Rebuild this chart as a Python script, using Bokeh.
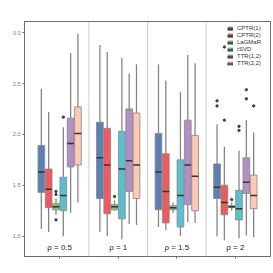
from bokeh.plotting import figure
from bokeh.models import ColumnDataSource, Span, FixedTicker, Legend, LegendItem
from bokeh.core.properties import value
from bokeh.embed import file_html
from bokeh.resources import INLINE

groups = ["ρ = 0.5", "ρ = 1", "ρ = 1.5", "ρ = 2"]
series = ["CPTR(1)", "CPTR(2)", "LaGMaR", "rSVD", "TTR(1,2)", "TTR(2,2)"]
colors = ["#5b80b2", "#f05a5f", "#82c96e", "#5cbfd0", "#b38fc6", "#fdc9b4"]

# per series: values for the 4 groups
whisker_low = {
    "CPTR(1)": [1.07, 1.04, 1.09, 1.00],
    "CPTR(2)": [1.04, 1.00, 1.06, 0.96],
    "LaGMaR": [1.21, 1.25, 1.23, 1.25],
    "rSVD": [1.00, 0.97, 1.00, 0.98],
    "TTR(1,2)": [1.23, 1.12, 1.14, 1.01],
    "TTR(2,2)": [1.33, 1.11, 1.13, 0.99],
}
q1 = {
    "CPTR(1)": [1.43, 1.37, 1.26, 1.37],
    "CPTR(2)": [1.28, 1.22, 1.13, 1.21],
    "LaGMaR": [1.26, 1.26, 1.26, 1.28],
    "rSVD": [1.25, 1.17, 1.09, 1.16],
    "TTR(1,2)": [1.68, 1.44, 1.31, 1.42],
    "TTR(2,2)": [1.70, 1.37, 1.25, 1.27],
}
median = {
    "CPTR(1)": [1.63, 1.77, 1.63, 1.48],
    "CPTR(2)": [1.46, 1.70, 1.44, 1.33],
    "LaGMaR": [1.29, 1.29, 1.28, 1.29],
    "rSVD": [1.40, 1.66, 1.40, 1.27],
    "TTR(1,2)": [1.91, 1.74, 1.70, 1.53],
    "TTR(2,2)": [2.01, 1.70, 1.59, 1.40],
}
q3 = {
    "CPTR(1)": [1.89, 2.12, 2.01, 1.71],
    "CPTR(2)": [1.66, 2.06, 1.81, 1.50],
    "LaGMaR": [1.32, 1.31, 1.30, 1.30],
    "rSVD": [1.58, 2.03, 1.75, 1.45],
    "TTR(1,2)": [2.16, 2.25, 2.14, 1.77],
    "TTR(2,2)": [2.27, 2.21, 1.99, 1.60],
}
whisker_high = {
    "CPTR(1)": [2.45, 2.88, 2.69, 2.10],
    "CPTR(2)": [2.22, 2.81, 2.53, 1.88],
    "LaGMaR": [1.37, 1.35, 1.33, 1.33],
    "rSVD": [2.07, 2.75, 2.42, 1.84],
    "TTR(1,2)": [2.80, 2.60, 2.78, 2.14],
    "TTR(2,2)": [2.99, 2.69, 2.70, 2.02],
}
# outliers: (group index, series, value)
outlier_group = [0, 0, 0, 0, 1, 3, 3, 3, 3, 3, 3, 3, 3, 3, 3]
outlier_series = ["LaGMaR", "LaGMaR", "LaGMaR", "rSVD", "LaGMaR",
                  "CPTR(1)", "CPTR(1)", "CPTR(2)", "CPTR(2)", "LaGMaR",
                  "rSVD", "rSVD", "TTR(1,2)", "TTR(1,2)", "TTR(2,2)"]
outlier_value = [1.41, 1.44, 1.16, 2.17, 1.39,
                 2.28, 2.33, 2.14, 2.86, 1.36,
                 2.04, 2.08, 2.35, 2.44, 2.28]

label_y = 0.885
dodge = 0.125
box_w = 0.115

p = figure(width=273, height=273, output_backend="svg", toolbar_location=None,
           x_range=(0.4, 4.6), y_range=(0.80, 3.11),
           min_border_left=24, min_border_right=3, min_border_top=21, min_border_bottom=17)
p.xgrid.visible = False
p.ygrid.visible = False
p.outline_line_color = "#6b6b6b"
p.outline_line_width = 1
p.background_fill_color = "white"
p.border_fill_color = "white"

for sep in [1.5, 2.5, 3.5]:
    p.add_layout(Span(location=sep, dimension="height", line_color="#9a9a9a",
                      line_dash="1 1", line_width=1))

items = []
for i, s in enumerate(series):
    off = (i - 2.5) * dodge
    xs = [g + 1 + off for g in range(4)]
    src = ColumnDataSource(dict(x=xs, lo=whisker_low[s], q1=q1[s], med=median[s],
                                q3=q3[s], hi=whisker_high[s],
                                ml=[x - box_w / 2 for x in xs], mr=[x + box_w / 2 for x in xs]))
    p.segment(x0="x", y0="q3", x1="x", y1="hi", source=src, line_color="#858585", line_width=1.3)
    p.segment(x0="x", y0="lo", x1="x", y1="q1", source=src, line_color="#858585", line_width=1.3)
    vb = p.vbar(x="x", width=box_w, bottom="q1", top="q3", source=src,
                fill_color=colors[i], line_color="#858585", line_width=0.8)
    md = p.segment(x0="ml", y0="med", x1="mr", y1="med", source=src,
                   line_color="#333333", line_width=1.5)
    items.append(LegendItem(label=s, renderers=[vb, md]))

ox = [g + 1 + (series.index(s) - 2.5) * dodge for g, s in zip(outlier_group, outlier_series)]
p.scatter(x=ox, y=outlier_value, size=2.4, color="#444444")

p.text(x=[1, 2, 3, 4], y=[label_y] * 4, text=groups, text_align="center",
       text_baseline="middle", text_font_size="8px",
       text_color="#222222", text_font=value("Liberation Sans"))

legend = Legend(items=items, location=(203, 190))
legend.label_text_font_size = "6px"
legend.label_text_font = "Liberation Sans"
legend.label_text_color = "#333333"
legend.glyph_width = 6
legend.glyph_height = 5
legend.label_height = 5
legend.label_standoff = 4
legend.spacing = 1
legend.padding = 2
legend.margin = 0
legend.border_line_color = None
legend.background_fill_alpha = 0.0
p.add_layout(legend)

p.yaxis.ticker = FixedTicker(ticks=[1.0, 1.5, 2.0, 2.5, 3.0])
p.yaxis.major_label_overrides = {1.0: "1.0", 1.5: "1.5", 2.0: "2.0", 2.5: "2.5", 3.0: "3.0"}
p.yaxis.major_label_text_font_size = "5.5px"
p.yaxis.major_label_text_color = "#777777"
p.yaxis.major_label_text_font = "Liberation Sans"
p.yaxis.major_label_standoff = 2
p.yaxis.major_tick_out = 2
p.yaxis.major_tick_in = 0
p.yaxis.minor_tick_line_color = None
p.yaxis.axis_line_color = "#6b6b6b"
p.yaxis.major_tick_line_color = "#6b6b6b"

p.xaxis.ticker = FixedTicker(ticks=[1, 2, 3, 4])
p.xaxis.major_label_overrides = {1: "", 2: "", 3: "", 4: ""}
p.xaxis.major_label_text_font_size = "1px"
p.xaxis.major_tick_out = 2
p.xaxis.major_tick_in = 0
p.xaxis.minor_tick_line_color = None
p.xaxis.axis_line_color = "#6b6b6b"
p.xaxis.major_tick_line_color = "#6b6b6b"

open("out.html", "w").write(file_html(p, INLINE))
